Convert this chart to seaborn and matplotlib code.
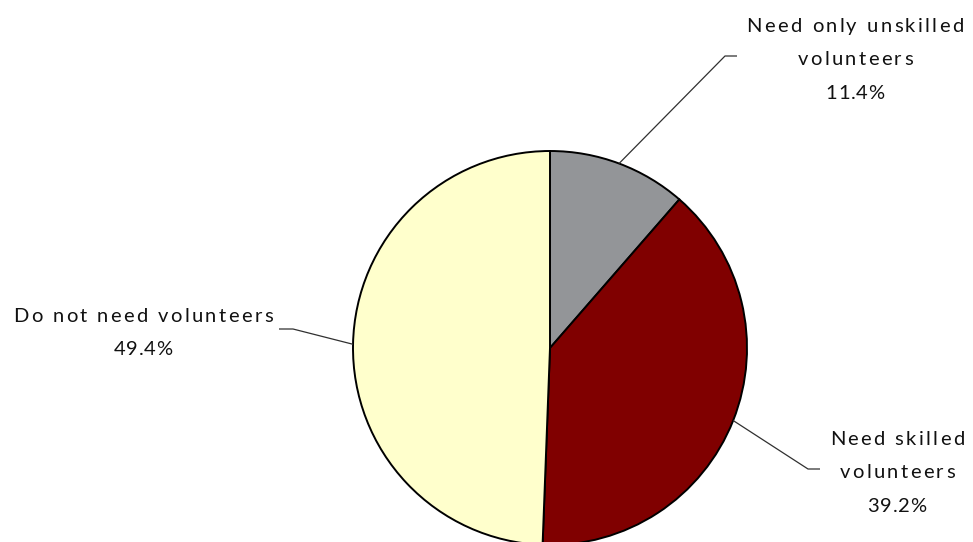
import numpy as np
import matplotlib
matplotlib.use("Agg")
import matplotlib.pyplot as plt
import seaborn as sns
from matplotlib.font_manager import FontProperties, findfont, get_font

categories = ["Need only unskilled\nvolunteers", "Need skilled\nvolunteers", "Do not need volunteers"]
values = [11.4, 39.2, 49.4]
colors = ["#939598", "#800000", "#FFFFCC"]

sns.set_theme(style="white")
plt.rcParams["font.family"] = ["Lato", "DejaVu Sans"]

W, H = 973, 542
DPI = 100
fig = plt.figure(figsize=(W / DPI, H / DPI), dpi=DPI)
ax = fig.add_axes([0, 0, 1, 1])

cx, cy_px, r = 550, 348, 197
cy = H - cy_px
wedges, _ = ax.pie(values, colors=colors, startangle=90, counterclock=False,
                   center=(cx, cy), radius=r,
                   wedgeprops=dict(edgecolor="black", linewidth=1.4))
ax.set_xlim(0, W)
ax.set_ylim(0, H)
ax.set_aspect("equal")
ax.axis("off")

FS = 14.5
TRACK_WORD = 2.4   # extra letter spacing in px for words
TRACK_NUM = 0.8    # extra letter spacing for percentages
prop = FontProperties(family="Lato", size=FS)
ftfont = get_font(findfont(prop))
ftfont.set_size(FS, DPI)


def advance(c):
    g = ftfont.load_char(ord(c))
    return g.linearHoriAdvance / 65536


def spaced_text(xc, y_base, s, track):
    advs = [advance(c) for c in s]
    total = sum(advs) + track * (len(s) - 1)
    x = xc - total / 2
    for c, a in zip(s, advs):
        if c != " ":
            ax.text(x, H - y_base, c, ha="left", va="baseline", fontproperties=prop, color="#111111")
        x += a + track


# label layout (pixel coords, y from top): text center x, baselines, elbow, line end
layout = [
    dict(tx=855, ty=[32, 65, 99], elbow=(725, 56), end=(737, 56)),
    dict(tx=897, ty=[445, 478, 512], elbow=(808, 469), end=(820, 469)),
    dict(tx=143, ty=[322, 355], elbow=(293, 329), end=(279, 329)),
]

for w, cat, val, lay in zip(wedges, categories, values, layout):
    mid = np.deg2rad((w.theta1 + w.theta2) / 2)
    px = cx + r * np.cos(mid)
    py = cy + r * np.sin(mid)
    ex, ey = lay["elbow"]
    fx, fy = lay["end"]
    ax.plot([px, ex, fx], [py, H - ey, H - fy], color="#303030", lw=0.9, solid_capstyle="butt")
    lines = cat.split("\n")
    for line, y in zip(lines, lay["ty"]):
        spaced_text(lay["tx"], y, line, TRACK_WORD)
    spaced_text(lay["tx"], lay["ty"][len(lines)], f"{val:.1f}%", TRACK_NUM)

fig.savefig("out.png", dpi=DPI)
